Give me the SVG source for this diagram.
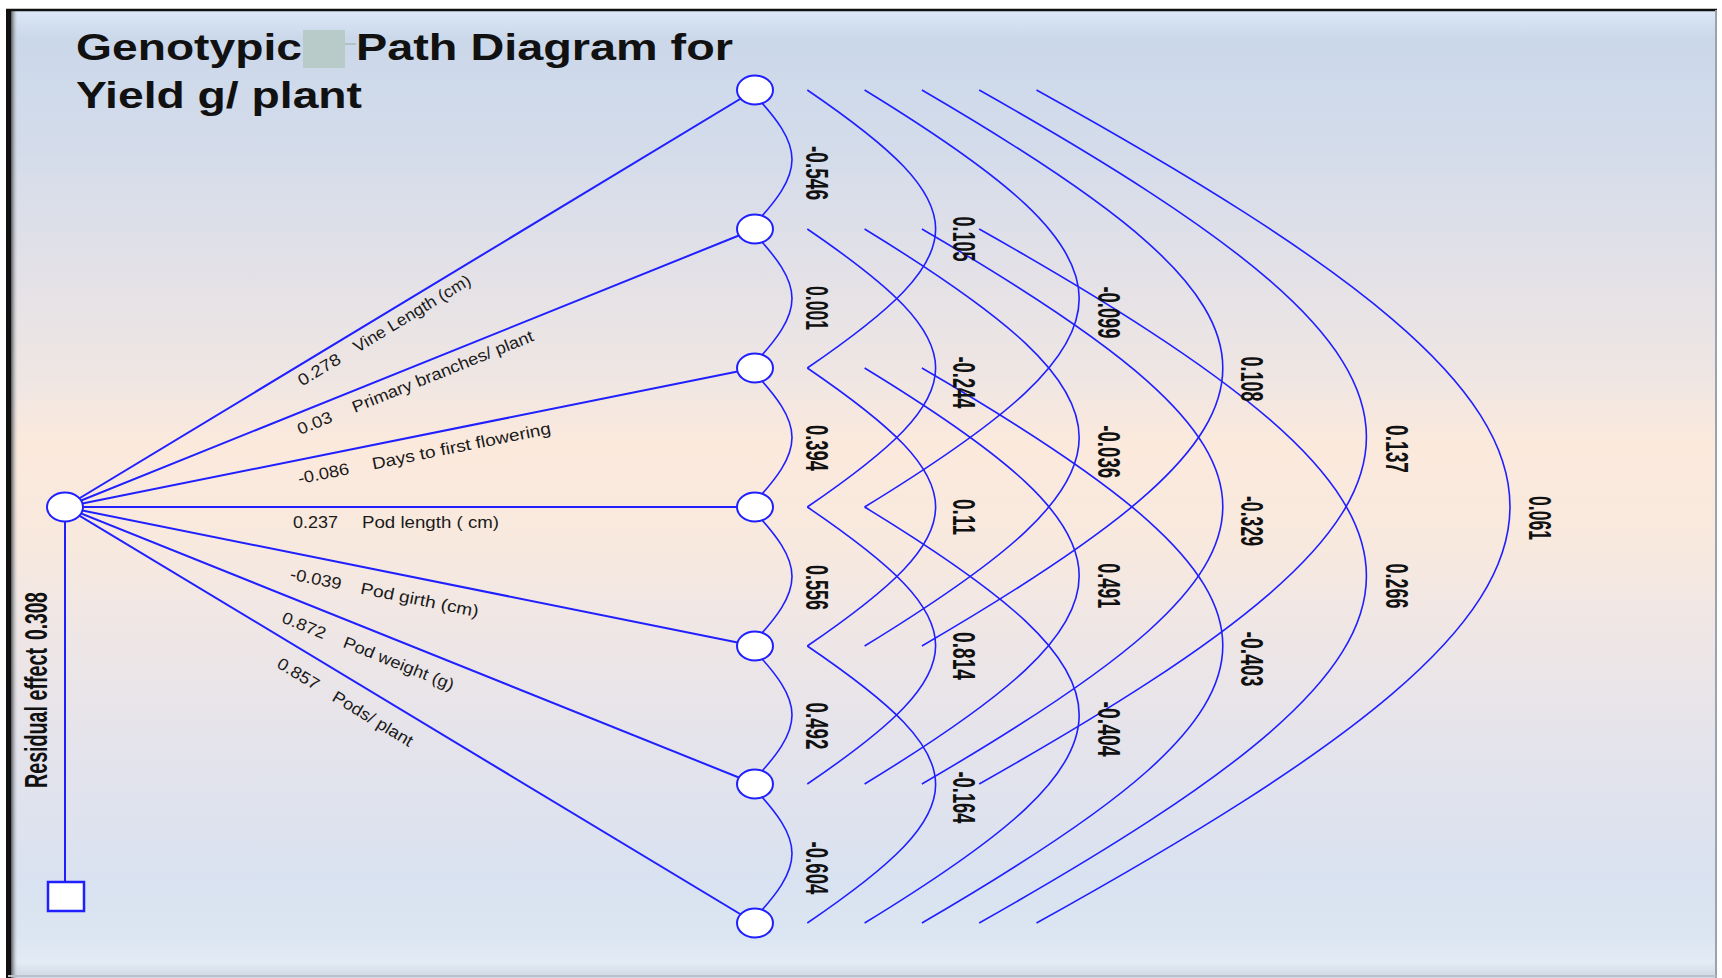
<svg xmlns="http://www.w3.org/2000/svg" width="1722" height="978" viewBox="0 0 1722 978">
<defs>
<linearGradient id="bg" gradientUnits="userSpaceOnUse" x1="0" y1="9" x2="0" y2="977">
<stop offset="0" stop-color="#dde9f7"/>
<stop offset="0.03" stop-color="#cbd8ea"/>
<stop offset="0.15" stop-color="#d4dcea"/>
<stop offset="0.27" stop-color="#e3e1e7"/>
<stop offset="0.38" stop-color="#efe6e3"/>
<stop offset="0.45" stop-color="#fbe9dc"/>
<stop offset="0.55" stop-color="#f8e9de"/>
<stop offset="0.65" stop-color="#eee6e6"/>
<stop offset="0.78" stop-color="#e3e3ec"/>
<stop offset="0.9" stop-color="#d9e2f0"/>
<stop offset="0.96" stop-color="#dce6f2"/>
<stop offset="0.985" stop-color="#e3ebf5"/>
<stop offset="1" stop-color="#cfd8e4"/>
</linearGradient>
<linearGradient id="leftshade" x1="0" y1="0" x2="1" y2="0">
<stop offset="0" stop-color="#555"/>
<stop offset="1" stop-color="#cfd8e4" stop-opacity="0"/>
</linearGradient>
<style>
.fan{stroke:#1f1fff;stroke-width:2;fill:none}
.arc{stroke:#1f1fff;stroke-width:1.6;fill:none}
.node{fill:#ffffff;stroke:#1f1fff;stroke-width:2}
.title{font-family:"Liberation Sans",Arial,sans-serif;font-weight:bold;font-size:37px;fill:#111}
.plab{font-family:"Liberation Sans",Arial,sans-serif;font-size:16.5px;fill:#1a1a1a}
.num{font-family:"Liberation Sans",Arial,sans-serif;font-weight:bold;font-size:31px;fill:#111}
</style>
</defs>
<rect x="0" y="0" width="1722" height="978" fill="#ffffff"/>
<rect x="8" y="10" width="1708" height="968" fill="url(#bg)"/>
<rect x="11" y="10" width="7" height="968" fill="url(#leftshade)"/>
<rect x="6" y="9" width="5" height="969" fill="#111"/>
<line x1="6" y1="10" x2="1717" y2="10" stroke="#111" stroke-width="2.5"/>
<line x1="1716" y1="10" x2="1716" y2="978" stroke="#9aa3ad" stroke-width="2"/>
<line x1="8" y1="976" x2="1716" y2="976" stroke="#b8c2cc" stroke-width="2"/>

<g id="title">
<text class="title" x="76" y="60" textLength="226" lengthAdjust="spacingAndGlyphs">Genotypic</text>
<rect x="303" y="30" width="42" height="38" fill="#b9cbc9"/>
<line x1="345" y1="44" x2="356" y2="44" stroke="#a9baba" stroke-width="1.5"/>
<text class="title" x="356" y="60" textLength="377" lengthAdjust="spacingAndGlyphs">Path Diagram for</text>
<text class="title" x="76" y="108" textLength="286" lengthAdjust="spacingAndGlyphs">Yield g/ plant</text>
</g>

<g id="connectors">
<line class="fan" x1="65" y1="507" x2="755" y2="90"/>
<line class="fan" x1="65" y1="507" x2="755" y2="229"/>
<line class="fan" x1="65" y1="507" x2="755" y2="368"/>
<line class="fan" x1="65" y1="507" x2="755" y2="507"/>
<line class="fan" x1="65" y1="507" x2="755" y2="646"/>
<line class="fan" x1="65" y1="507" x2="755" y2="784"/>
<line class="fan" x1="65" y1="507" x2="755" y2="923"/>
<line class="fan" x1="65" y1="507" x2="65" y2="882"/>

<path class="arc" d="M750,90 C806,148.4 806,170.6 750,229"/>
<path class="arc" d="M750,229 C806,287.4 806,309.6 750,368"/>
<path class="arc" d="M750,368 C806,426.4 806,448.6 750,507"/>
<path class="arc" d="M750,507 C806,565.4 806,587.6 750,646"/>
<path class="arc" d="M750,646 C806,704 806,726 750,784"/>
<path class="arc" d="M750,784 C806,842.4 806,864.6 750,923"/>

<path class="arc" d="M807.3,90 C978.4,206.8 978.4,251.2 807.3,368"/>
<path class="arc" d="M807.3,229 C978.4,345.8 978.4,390.2 807.3,507"/>
<path class="arc" d="M807.3,368 C978.4,484.8 978.4,529.2 807.3,646"/>
<path class="arc" d="M807.3,507 C978.4,623.3 978.4,667.7 807.3,784"/>
<path class="arc" d="M807.3,646 C978.4,762.3 978.4,806.7 807.3,923"/>

<path class="arc" d="M864.6,90 C1150.7,265.1 1150.7,331.9 864.6,507"/>
<path class="arc" d="M864.6,229 C1150.7,404.1 1150.7,470.9 864.6,646"/>
<path class="arc" d="M864.6,368 C1150.7,542.7 1150.7,609.3 864.6,784"/>
<path class="arc" d="M864.6,507 C1150.7,681.7 1150.7,748.3 864.6,923"/>

<path class="arc" d="M921.9,90 C1323.1,323.5 1323.1,412.5 921.9,646"/>
<path class="arc" d="M921.9,229 C1323.1,462.1 1323.1,550.9 921.9,784"/>
<path class="arc" d="M921.9,368 C1323.1,601.1 1323.1,689.9 921.9,923"/>

<path class="arc" d="M979.2,90 C1495.5,381.5 1495.5,492.5 979.2,784"/>
<path class="arc" d="M979.2,229 C1495.5,520.5 1495.5,631.5 979.2,923"/>

<path class="arc" d="M1036.5,90 C1667.8,439.9 1667.8,573.1 1036.5,923"/>
</g>

<g id="path-labels">
<g transform="translate(65,507) rotate(-31.15)">
<text class="plab" x="265" y="19.5" textLength="47" lengthAdjust="spacingAndGlyphs">0.278</text>
<text class="plab" x="330" y="19.5" textLength="134" lengthAdjust="spacingAndGlyphs">Vine Length (cm)</text>
</g>
<g transform="translate(65,507) rotate(-21.94)">
<text class="plab" x="245" y="21" textLength="36" lengthAdjust="spacingAndGlyphs">0.03</text>
<text class="plab" x="304" y="21" textLength="194" lengthAdjust="spacingAndGlyphs">Primary branches/ plant</text>
</g>
<g transform="translate(65,507) rotate(-11.39)">
<text class="plab" x="234" y="24" textLength="52" lengthAdjust="spacingAndGlyphs">-0.086</text>
<text class="plab" x="309.5" y="24" textLength="182" lengthAdjust="spacingAndGlyphs">Days to first flowering</text>
</g>
<g transform="translate(65,507)">
<text class="plab" x="228" y="21.3" textLength="45" lengthAdjust="spacingAndGlyphs">0.237</text>
<text class="plab" x="297" y="21.3" textLength="137" lengthAdjust="spacingAndGlyphs">Pod length ( cm)</text>
</g>
<g transform="translate(65,507) rotate(11.39)">
<text class="plab" x="234" y="26.5" textLength="52" lengthAdjust="spacingAndGlyphs">-0.039</text>
<text class="plab" x="306" y="26.5" textLength="120" lengthAdjust="spacingAndGlyphs">Pod girth (cm)</text>
</g>
<g transform="translate(65,507) rotate(21.87)">
<text class="plab" x="243" y="26.5" textLength="46" lengthAdjust="spacingAndGlyphs">0.872</text>
<text class="plab" x="309" y="26.5" textLength="118" lengthAdjust="spacingAndGlyphs">Pod weight (g)</text>
</g>
<g transform="translate(65,507) rotate(31.09)">
<text class="plab" x="263" y="28" textLength="46" lengthAdjust="spacingAndGlyphs">0.857</text>
<text class="plab" x="327.5" y="28" textLength="91" lengthAdjust="spacingAndGlyphs">Pods/ plant</text>
</g>
</g>

<g id="residual">
<rect x="48" y="882" width="36" height="29" fill="#ffffff" stroke="#1f1fff" stroke-width="2.5"/>
<g transform="translate(47,788) rotate(-90)">
<text class="num" x="0" y="0" textLength="140" lengthAdjust="spacingAndGlyphs">Residual effect</text>
<text class="num" x="148" y="0" textLength="48" lengthAdjust="spacingAndGlyphs">0.308</text>
</g>
</g>

<g id="corr-labels">
<g transform="translate(806,0) rotate(90)">
<text class="num" x="146" y="0" textLength="54" lengthAdjust="spacingAndGlyphs">-0.546</text>
<text class="num" x="286" y="0" textLength="44" lengthAdjust="spacingAndGlyphs">0.001</text>
<text class="num" x="425" y="0" textLength="46" lengthAdjust="spacingAndGlyphs">0.394</text>
<text class="num" x="565" y="0" textLength="45" lengthAdjust="spacingAndGlyphs">0.556</text>
<text class="num" x="702.5" y="0" textLength="47" lengthAdjust="spacingAndGlyphs">0.492</text>
<text class="num" x="841.5" y="0" textLength="53" lengthAdjust="spacingAndGlyphs">-0.604</text>
</g>
<g transform="translate(953,0) rotate(90)">
<text class="num" x="216.5" y="0" textLength="45" lengthAdjust="spacingAndGlyphs">0.105</text>
<text class="num" x="356.5" y="0" textLength="52" lengthAdjust="spacingAndGlyphs">-0.244</text>
<text class="num" x="499" y="0" textLength="36" lengthAdjust="spacingAndGlyphs">0.11</text>
<text class="num" x="632" y="0" textLength="48" lengthAdjust="spacingAndGlyphs">0.814</text>
<text class="num" x="771.5" y="0" textLength="52" lengthAdjust="spacingAndGlyphs">-0.164</text>
</g>
<g transform="translate(1098,0) rotate(90)">
<text class="num" x="286.5" y="0" textLength="52" lengthAdjust="spacingAndGlyphs">-0.099</text>
<text class="num" x="425.2" y="0" textLength="53" lengthAdjust="spacingAndGlyphs">-0.036</text>
<text class="num" x="563.3" y="0" textLength="45" lengthAdjust="spacingAndGlyphs">0.491</text>
<text class="num" x="701.5" y="0" textLength="55" lengthAdjust="spacingAndGlyphs">-0.404</text>
</g>
<g transform="translate(1241,0) rotate(90)">
<text class="num" x="356.5" y="0" textLength="45" lengthAdjust="spacingAndGlyphs">0.108</text>
<text class="num" x="496" y="0" textLength="50" lengthAdjust="spacingAndGlyphs">-0.329</text>
<text class="num" x="631.5" y="0" textLength="55" lengthAdjust="spacingAndGlyphs">-0.403</text>
</g>
<g transform="translate(1386,0) rotate(90)">
<text class="num" x="425" y="0" textLength="48" lengthAdjust="spacingAndGlyphs">0.137</text>
<text class="num" x="563.5" y="0" textLength="45" lengthAdjust="spacingAndGlyphs">0.266</text>
</g>
<g transform="translate(1529,0) rotate(90)">
<text class="num" x="496" y="0" textLength="44" lengthAdjust="spacingAndGlyphs">0.061</text>
</g>
</g>

<g id="node-source"><ellipse class="node" cx="65" cy="507" rx="18" ry="14.5"/></g>
<g id="node-1"><ellipse class="node" cx="755" cy="90" rx="18" ry="14.5"/></g>
<g id="node-2"><ellipse class="node" cx="755" cy="229" rx="18" ry="14.5"/></g>
<g id="node-3"><ellipse class="node" cx="755" cy="368" rx="18" ry="14.5"/></g>
<g id="node-4"><ellipse class="node" cx="755" cy="507" rx="18" ry="14.5"/></g>
<g id="node-5"><ellipse class="node" cx="755" cy="646" rx="18" ry="14.5"/></g>
<g id="node-6"><ellipse class="node" cx="755" cy="784" rx="18" ry="14.5"/></g>
<g id="node-7"><ellipse class="node" cx="755" cy="923" rx="18" ry="14.5"/></g>
</svg>
